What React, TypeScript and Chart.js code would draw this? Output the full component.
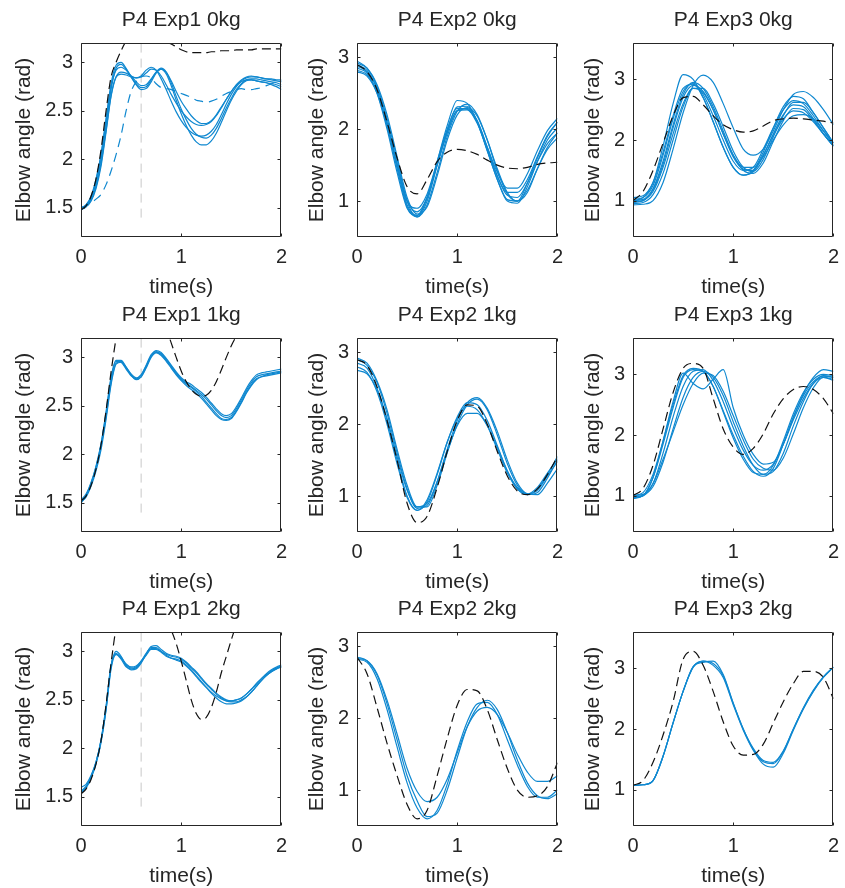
import React, { useEffect, useRef } from "react";
import { Chart, registerables } from "chart.js";
Chart.register(...registerables);

const FONT = '"Liberation Sans", Arial, Helvetica, sans-serif';
const TEXT = "#262626";
const BLUE = "#0f88d0";
const BLACK = "#111111";
const GRAY = "#c8c8c8";

// time samples (s)
const TIME_FINE = [0, 0.05, 0.1, 0.15, 0.2, 0.25, 0.3, 0.35, 0.4, 0.45, 0.5, 0.55, 0.6, 0.65, 0.7, 0.75, 0.8, 0.85, 0.9, 0.95, 1, 1.05, 1.1, 1.15, 1.2, 1.25, 1.3, 1.35, 1.4, 1.45, 1.5, 1.55, 1.6, 1.65, 1.7, 1.75, 1.8, 1.85, 1.9, 1.95, 2];
const TIME = [0, 0.1, 0.2, 0.3, 0.4, 0.5, 0.6, 0.7, 0.8, 0.9, 1, 1.1, 1.2, 1.3, 1.4, 1.5, 1.6, 1.7, 1.8, 1.9, 2];

const X_TICKS = [0, 1, 2];
const Y_TICKS_EXP1 = [1.5, 2, 2.5, 3];
const Y_TICKS_EXP2 = [1, 2, 3];
const Y_TICKS_EXP3 = [1, 2, 3];
const MARKER_T = [0.6, 0.6];
const MARKER_Y = [1.4, 3.2];

// ---- P4 Exp1 0kg ----
const E1_0_BLACK = [1.48, 1.52, 1.62, 1.8, 2.1, 2.5, 2.85, 3.0, 3.12, 3.22, 3.28, 3.31, 3.32, 3.31, 3.29, 3.26, 3.23, 3.21, 3.19, 3.16, 3.13, 3.11, 3.1, 3.1, 3.1, 3.1, 3.11, 3.11, 3.12, 3.12, 3.12, 3.13, 3.13, 3.13, 3.13, 3.14, 3.14, 3.14, 3.14, 3.14, 3.14];
const E1_0_DASHED = [1.5, 1.52, 1.55, 1.59, 1.64, 1.74, 1.88, 2.05, 2.25, 2.5, 2.7, 2.8, 2.85, 2.86, 2.84, 2.78, 2.74, 2.73, 2.72, 2.7, 2.68, 2.66, 2.64, 2.61, 2.6, 2.59, 2.6, 2.62, 2.65, 2.68, 2.7, 2.72, 2.73, 2.72, 2.72, 2.73, 2.74, 2.76, 2.78, 2.8, 2.81];
const E1_0_A = [1.48, 1.52, 1.6, 1.78, 2.05, 2.42, 2.78, 2.97, 3.0, 2.94, 2.85, 2.77, 2.72, 2.73, 2.8, 2.89, 2.93, 2.88, 2.76, 2.61, 2.47, 2.35, 2.25, 2.18, 2.15, 2.15, 2.19, 2.27, 2.38, 2.5, 2.61, 2.7, 2.77, 2.81, 2.82, 2.81, 2.8, 2.79, 2.77, 2.75, 2.72];
const E1_0_B = [1.5, 1.53, 1.6, 1.75, 2.0, 2.35, 2.72, 2.94, 2.98, 2.93, 2.85, 2.78, 2.74, 2.75, 2.82, 2.9, 2.94, 2.9, 2.79, 2.65, 2.52, 2.41, 2.32, 2.26, 2.23, 2.22, 2.25, 2.32, 2.42, 2.53, 2.63, 2.72, 2.78, 2.82, 2.83, 2.83, 2.82, 2.81, 2.8, 2.79, 2.77];
const E1_0_C = [1.48, 1.51, 1.57, 1.7, 1.93, 2.28, 2.65, 2.85, 2.9, 2.89, 2.86, 2.84, 2.86, 2.92, 2.95, 2.92, 2.83, 2.72, 2.6, 2.49, 2.4, 2.33, 2.28, 2.25, 2.24, 2.25, 2.29, 2.36, 2.46, 2.57, 2.67, 2.75, 2.81, 2.84, 2.85, 2.85, 2.84, 2.83, 2.82, 2.81, 2.8];
const E1_0_D = [1.5, 1.52, 1.58, 1.72, 1.96, 2.3, 2.66, 2.85, 2.88, 2.87, 2.85, 2.84, 2.85, 2.89, 2.93, 2.92, 2.86, 2.77, 2.67, 2.58, 2.5, 2.44, 2.39, 2.36, 2.35, 2.36, 2.39, 2.45, 2.53, 2.62, 2.7, 2.77, 2.82, 2.85, 2.86, 2.85, 2.84, 2.83, 2.83, 2.82, 2.82];
const E1_0_E = [1.49, 1.53, 1.62, 1.8, 2.05, 2.4, 2.75, 2.92, 2.95, 2.92, 2.86, 2.8, 2.76, 2.77, 2.83, 2.9, 2.93, 2.9, 2.81, 2.7, 2.6, 2.52, 2.45, 2.4, 2.37, 2.37, 2.4, 2.46, 2.54, 2.62, 2.7, 2.76, 2.8, 2.82, 2.82, 2.81, 2.8, 2.79, 2.78, 2.77, 2.75];

// ---- P4 Exp2 0kg ----
const E2_0_BLACK = [2.9, 2.8, 2.55, 2.1, 1.6, 1.2, 1.1, 1.3, 1.55, 1.68, 1.72, 1.7, 1.65, 1.57, 1.5, 1.46, 1.45, 1.47, 1.51, 1.53, 1.54];
const E2_0_A = [2.95, 2.85, 2.6, 2.1, 1.5, 0.95, 0.8, 1.05, 1.55, 2.05, 2.4, 2.36, 2.1, 1.7, 1.3, 1.02, 1.0, 1.25, 1.6, 1.9, 2.1];
const E2_0_B = [2.9, 2.82, 2.55, 2.05, 1.45, 0.92, 0.78, 1.0, 1.5, 1.98, 2.31, 2.32, 2.1, 1.7, 1.3, 1.0, 0.97, 1.2, 1.55, 1.85, 2.02];
const E2_0_C = [2.85, 2.78, 2.5, 2.0, 1.4, 0.9, 0.8, 1.05, 1.52, 1.95, 2.26, 2.29, 2.12, 1.75, 1.35, 1.08, 1.05, 1.25, 1.55, 1.8, 1.95];
const E2_0_D = [2.92, 2.85, 2.62, 2.2, 1.62, 1.05, 0.82, 0.92, 1.35, 1.85, 2.2, 2.3, 2.18, 1.85, 1.45, 1.12, 1.0, 1.12, 1.45, 1.75, 1.95];
const E2_0_E = [2.88, 2.8, 2.58, 2.15, 1.58, 1.0, 0.78, 0.95, 1.4, 1.9, 2.25, 2.35, 2.2, 1.85, 1.42, 1.1, 1.0, 1.15, 1.45, 1.72, 1.88];
const E2_0_F = [2.82, 2.76, 2.52, 2.08, 1.52, 1.0, 0.85, 1.05, 1.5, 1.95, 2.26, 2.27, 2.08, 1.72, 1.35, 1.12, 1.12, 1.3, 1.62, 1.92, 2.1];
const E2_0_G = [2.8, 2.74, 2.5, 2.05, 1.5, 1.0, 0.9, 1.1, 1.55, 2.0, 2.29, 2.28, 2.1, 1.75, 1.4, 1.18, 1.18, 1.38, 1.7, 1.98, 2.15];

// ---- P4 Exp3 0kg ----
const E3_0_BLACK = [1.0, 1.15, 1.5, 1.95, 2.4, 2.7, 2.72, 2.58, 2.4, 2.25, 2.17, 2.13, 2.15, 2.23, 2.32, 2.35, 2.36, 2.35, 2.33, 2.31, 2.28];
const E3_0_A = [1.0, 1.05, 1.3, 1.9, 2.6, 3.08, 3.0, 2.7, 2.3, 1.88, 1.55, 1.42, 1.5, 1.8, 2.2, 2.55, 2.72, 2.68, 2.45, 2.2, 1.95];
const E3_0_B = [0.93, 0.94, 1.0, 1.3, 1.85, 2.45, 2.9, 3.07, 2.95, 2.6, 2.2, 1.85, 1.75, 1.85, 2.15, 2.5, 2.75, 2.8, 2.7, 2.5, 2.25];
const E3_0_C = [1.02, 1.05, 1.25, 1.75, 2.35, 2.8, 2.93, 2.75, 2.4, 2.0, 1.65, 1.5, 1.55, 1.85, 2.2, 2.5, 2.65, 2.6, 2.4, 2.15, 1.92];
const E3_0_D = [0.98, 1.0, 1.18, 1.6, 2.2, 2.7, 2.9, 2.8, 2.5, 2.1, 1.72, 1.52, 1.5, 1.75, 2.1, 2.42, 2.58, 2.55, 2.35, 2.1, 1.9];
const E3_0_E = [1.05, 1.08, 1.3, 1.8, 2.4, 2.85, 2.92, 2.7, 2.3, 1.88, 1.55, 1.42, 1.48, 1.75, 2.08, 2.35, 2.48, 2.45, 2.3, 2.1, 1.9];
const E3_0_F = [0.95, 0.97, 1.1, 1.45, 2.0, 2.55, 2.85, 2.85, 2.6, 2.22, 1.82, 1.55, 1.48, 1.68, 2.05, 2.4, 2.62, 2.62, 2.45, 2.2, 1.95];
const E3_0_G = [1.0, 1.02, 1.2, 1.65, 2.25, 2.75, 2.95, 2.85, 2.55, 2.15, 1.75, 1.5, 1.45, 1.62, 1.98, 2.32, 2.52, 2.5, 2.32, 2.1, 1.9];
const E3_0_H = [0.97, 1.0, 1.15, 1.55, 2.1, 2.6, 2.85, 2.78, 2.5, 2.1, 1.75, 1.55, 1.55, 1.72, 2.0, 2.25, 2.4, 2.42, 2.35, 2.15, 1.95];

// ---- P4 Exp1 1kg ----
const E1_1_BLACK = [1.52, 1.57, 1.68, 1.85, 2.1, 2.45, 2.85, 3.2, 3.5, 3.7, 3.85, 3.9, 3.9, 3.85, 3.75, 3.6, 3.45, 3.3, 3.15, 3.0, 2.86, 2.75, 2.67, 2.62, 2.6, 2.61, 2.66, 2.75, 2.87, 3.0, 3.12, 3.22, 3.32, 3.42, 3.5, 3.58, 3.65, 3.7, 3.74, 3.77, 3.8];
const E1_1_A = [1.52, 1.58, 1.7, 1.87, 2.1, 2.42, 2.78, 2.96, 2.95, 2.88, 2.81, 2.78, 2.82, 2.92, 3.03, 3.06, 3.03, 2.97, 2.9, 2.83, 2.77, 2.73, 2.7, 2.66, 2.62, 2.57, 2.51, 2.45, 2.4, 2.38, 2.4, 2.47, 2.56, 2.66, 2.74, 2.8, 2.82, 2.83, 2.84, 2.85, 2.86];
const E1_1_B = [1.5, 1.57, 1.69, 1.86, 2.08, 2.39, 2.74, 2.94, 2.96, 2.9, 2.83, 2.79, 2.82, 2.91, 3.02, 3.07, 3.05, 2.99, 2.92, 2.85, 2.79, 2.75, 2.72, 2.68, 2.64, 2.59, 2.53, 2.47, 2.42, 2.4, 2.42, 2.49, 2.58, 2.68, 2.76, 2.82, 2.84, 2.85, 2.86, 2.87, 2.88];
const E1_1_C = [1.51, 1.56, 1.67, 1.83, 2.05, 2.36, 2.72, 2.93, 2.95, 2.89, 2.82, 2.78, 2.8, 2.89, 3.0, 3.05, 3.04, 2.98, 2.91, 2.84, 2.78, 2.73, 2.69, 2.65, 2.6, 2.54, 2.48, 2.42, 2.37, 2.36, 2.38, 2.45, 2.54, 2.64, 2.72, 2.78, 2.8, 2.82, 2.83, 2.84, 2.85];
const E1_1_D = [1.53, 1.59, 1.71, 1.88, 2.11, 2.44, 2.8, 2.97, 2.97, 2.9, 2.82, 2.77, 2.8, 2.9, 3.01, 3.05, 3.02, 2.96, 2.89, 2.82, 2.76, 2.71, 2.67, 2.63, 2.58, 2.52, 2.46, 2.4, 2.36, 2.35, 2.37, 2.44, 2.53, 2.63, 2.71, 2.77, 2.8, 2.81, 2.82, 2.83, 2.84];

// ---- P4 Exp2 1kg ----
const E2_1_BLACK = [2.9, 2.82, 2.52, 2.05, 1.5, 0.9, 0.63, 0.72, 1.12, 1.62, 2.05, 2.27, 2.25, 2.0, 1.62, 1.28, 1.07, 1.02, 1.1, 1.3, 1.55];
const E2_1_A = [2.92, 2.85, 2.6, 2.2, 1.65, 1.15, 0.85, 0.85, 1.15, 1.6, 2.0, 2.27, 2.35, 2.2, 1.85, 1.45, 1.15, 1.02, 1.05, 1.25, 1.5];
const E2_1_B = [2.85, 2.78, 2.5, 2.05, 1.5, 1.0, 0.8, 0.92, 1.3, 1.75, 2.1, 2.3, 2.27, 2.05, 1.7, 1.35, 1.1, 1.02, 1.1, 1.3, 1.55];
const E2_1_C = [2.8, 2.72, 2.45, 2.0, 1.45, 0.98, 0.8, 0.95, 1.32, 1.75, 2.08, 2.25, 2.2, 1.98, 1.65, 1.32, 1.1, 1.03, 1.12, 1.32, 1.52];
const E2_1_D = [2.75, 2.7, 2.48, 2.08, 1.55, 1.08, 0.85, 0.9, 1.2, 1.62, 1.98, 2.15, 2.15, 1.98, 1.68, 1.35, 1.12, 1.03, 1.08, 1.28, 1.48];
const E2_1_E = [2.9, 2.82, 2.58, 2.15, 1.6, 1.1, 0.83, 0.87, 1.2, 1.65, 2.05, 2.3, 2.37, 2.22, 1.9, 1.5, 1.18, 1.03, 1.02, 1.18, 1.38];

// ---- P4 Exp3 1kg ----
const E3_1_BLACK = [1.0, 1.12, 1.5, 2.1, 2.7, 3.1, 3.18, 3.1, 2.6, 2.1, 1.8, 1.68, 1.78, 2.02, 2.35, 2.6, 2.75, 2.8, 2.75, 2.6, 2.35];
const E3_1_A = [0.95, 1.0, 1.3, 1.85, 2.45, 2.95, 3.08, 3.05, 2.8, 2.4, 2.0, 1.65, 1.4, 1.32, 1.45, 1.85, 2.3, 2.65, 2.88, 2.97, 2.95];
const E3_1_B = [1.0, 1.05, 1.35, 1.9, 2.5, 2.98, 3.1, 3.05, 2.8, 2.38, 1.95, 1.6, 1.38, 1.35, 1.5, 1.9, 2.35, 2.7, 2.92, 3.0, 2.98];
const E3_1_C = [0.98, 1.0, 1.2, 1.7, 2.3, 2.8, 3.05, 3.08, 2.9, 2.55, 2.12, 1.75, 1.5, 1.42, 1.52, 1.85, 2.28, 2.68, 2.95, 3.08, 3.05];
const E3_1_D = [0.97, 1.0, 1.3, 1.9, 2.55, 3.02, 2.85, 2.76, 2.92, 3.08, 2.45, 2.0, 1.68, 1.52, 1.55, 1.85, 2.25, 2.6, 2.85, 2.95, 2.92];
const E3_1_E = [0.97, 1.0, 1.15, 1.55, 2.1, 2.62, 2.95, 3.05, 2.95, 2.65, 2.22, 1.82, 1.5, 1.35, 1.4, 1.7, 2.15, 2.55, 2.85, 2.98, 2.95];
const E3_1_F = [1.0, 1.02, 1.2, 1.6, 2.05, 2.5, 2.85, 3.02, 2.98, 2.72, 2.32, 1.92, 1.6, 1.45, 1.42, 1.62, 2.02, 2.45, 2.78, 2.95, 2.9];

// ---- P4 Exp1 2kg ----
const E1_2_BLACK = [1.53, 1.58, 1.68, 1.84, 2.08, 2.45, 2.88, 3.25, 3.55, 3.75, 3.88, 3.92, 3.9, 3.82, 3.7, 3.58, 3.45, 3.33, 3.22, 3.08, 2.9, 2.7, 2.5, 2.36, 2.3, 2.32, 2.42, 2.58, 2.78, 2.95, 3.12, 3.28, 3.42, 3.55, 3.65, 3.75, 3.82, 3.88, 3.92, 3.95, 3.97];
const E1_2_A = [1.55, 1.6, 1.7, 1.85, 2.08, 2.42, 2.85, 2.98, 2.93, 2.86, 2.83, 2.84, 2.9, 2.98, 3.04, 3.04, 3.0, 2.97, 2.95, 2.94, 2.92, 2.88, 2.83, 2.78, 2.72, 2.66, 2.61, 2.56, 2.52, 2.49, 2.48, 2.48, 2.5, 2.53, 2.58, 2.64, 2.7, 2.75, 2.79, 2.82, 2.84];
const E1_2_B = [1.6, 1.63, 1.72, 1.86, 2.08, 2.4, 2.82, 2.97, 2.94, 2.87, 2.84, 2.85, 2.9, 2.97, 3.03, 3.03, 3.0, 2.96, 2.93, 2.91, 2.89, 2.85, 2.8, 2.74, 2.68, 2.63, 2.58, 2.54, 2.51, 2.49, 2.49, 2.5, 2.52, 2.56, 2.61, 2.66, 2.72, 2.76, 2.8, 2.83, 2.85];
const E1_2_C = [1.54, 1.59, 1.69, 1.84, 2.06, 2.4, 2.84, 3.0, 2.95, 2.85, 2.81, 2.82, 2.88, 2.97, 3.05, 3.06, 3.02, 2.98, 2.96, 2.95, 2.93, 2.89, 2.84, 2.79, 2.73, 2.67, 2.62, 2.57, 2.53, 2.5, 2.49, 2.5, 2.52, 2.56, 2.61, 2.67, 2.72, 2.77, 2.81, 2.84, 2.86];
const E1_2_D = [1.56, 1.61, 1.71, 1.86, 2.09, 2.44, 2.86, 2.97, 2.92, 2.84, 2.82, 2.83, 2.89, 2.96, 3.02, 3.02, 2.99, 2.95, 2.93, 2.92, 2.9, 2.86, 2.81, 2.75, 2.69, 2.63, 2.57, 2.52, 2.48, 2.46, 2.46, 2.47, 2.49, 2.53, 2.58, 2.64, 2.7, 2.75, 2.79, 2.82, 2.84];

// ---- P4 Exp2 2kg ----
const E2_2_BLACK = [2.85, 2.62, 2.15, 1.65, 1.2, 0.8, 0.6, 0.72, 1.2, 1.72, 2.18, 2.4, 2.38, 2.12, 1.7, 1.3, 1.0, 0.9, 0.92, 1.05, 1.38];
const E2_2_A = [2.85, 2.8, 2.6, 2.2, 1.7, 1.2, 0.85, 0.63, 0.68, 1.0, 1.45, 1.88, 2.15, 2.25, 2.12, 1.8, 1.42, 1.1, 0.92, 0.88, 0.95];
const E2_2_B = [2.82, 2.78, 2.55, 2.12, 1.6, 1.1, 0.75, 0.6, 0.72, 1.08, 1.55, 1.95, 2.2, 2.22, 2.05, 1.7, 1.35, 1.05, 0.9, 0.9, 1.0];
const E2_2_C = [2.83, 2.8, 2.62, 2.25, 1.78, 1.3, 0.98, 0.84, 0.9, 1.15, 1.52, 1.88, 2.1, 2.15, 2.05, 1.8, 1.5, 1.25, 1.12, 1.12, 1.2];

// ---- P4 Exp3 2kg ----
const E3_2_BLACK = [1.07, 1.15, 1.45, 1.9, 2.45, 3.15, 3.28, 3.05, 2.62, 2.12, 1.72, 1.57, 1.58, 1.75, 2.1, 2.45, 2.75, 2.95, 2.95, 2.85, 2.5];
const E3_2_A = [1.07, 1.08, 1.15, 1.55, 2.1, 2.62, 3.02, 3.12, 3.05, 2.85, 2.4, 1.98, 1.65, 1.42, 1.37, 1.6, 1.98, 2.33, 2.62, 2.85, 3.02];
const E3_2_B = [1.07, 1.08, 1.15, 1.55, 2.1, 2.62, 3.02, 3.12, 3.08, 2.88, 2.42, 2.0, 1.66, 1.46, 1.43, 1.63, 2.0, 2.34, 2.63, 2.86, 3.02];
const E3_2_C = [1.07, 1.08, 1.15, 1.55, 2.1, 2.62, 3.03, 3.1, 3.12, 2.9, 2.43, 2.0, 1.68, 1.48, 1.45, 1.64, 2.0, 2.35, 2.64, 2.86, 3.02];

type PanelCfg = {
  title: string;
  time: number[];
  black: number[];
  blue: number[][];
  blueDashed?: number[];
  marker?: boolean;
  yMin: number;
  yMax: number;
  yTicks: number[];
};

const PANELS: PanelCfg[] = [
  { title: "P4 Exp1 0kg", time: TIME_FINE, black: E1_0_BLACK, blue: [E1_0_A, E1_0_B, E1_0_C, E1_0_D, E1_0_E], blueDashed: E1_0_DASHED, marker: true, yMin: 1.2, yMax: 3.2, yTicks: Y_TICKS_EXP1 },
  { title: "P4 Exp2 0kg", time: TIME, black: E2_0_BLACK, blue: [E2_0_A, E2_0_B, E2_0_C, E2_0_D, E2_0_E, E2_0_F, E2_0_G], yMin: 0.5, yMax: 3.2, yTicks: Y_TICKS_EXP2 },
  { title: "P4 Exp3 0kg", time: TIME, black: E3_0_BLACK, blue: [E3_0_A, E3_0_B, E3_0_C, E3_0_D, E3_0_E, E3_0_F, E3_0_G, E3_0_H], yMin: 0.4, yMax: 3.6, yTicks: Y_TICKS_EXP3 },
  { title: "P4 Exp1 1kg", time: TIME_FINE, black: E1_1_BLACK, blue: [E1_1_A, E1_1_B, E1_1_C, E1_1_D], marker: true, yMin: 1.2, yMax: 3.2, yTicks: Y_TICKS_EXP1 },
  { title: "P4 Exp2 1kg", time: TIME, black: E2_1_BLACK, blue: [E2_1_A, E2_1_B, E2_1_C, E2_1_D, E2_1_E], yMin: 0.5, yMax: 3.2, yTicks: Y_TICKS_EXP2 },
  { title: "P4 Exp3 1kg", time: TIME, black: E3_1_BLACK, blue: [E3_1_A, E3_1_B, E3_1_C, E3_1_D, E3_1_E, E3_1_F], yMin: 0.4, yMax: 3.6, yTicks: Y_TICKS_EXP3 },
  { title: "P4 Exp1 2kg", time: TIME_FINE, black: E1_2_BLACK, blue: [E1_2_A, E1_2_B, E1_2_C, E1_2_D], marker: true, yMin: 1.2, yMax: 3.2, yTicks: Y_TICKS_EXP1 },
  { title: "P4 Exp2 2kg", time: TIME, black: E2_2_BLACK, blue: [E2_2_A, E2_2_B, E2_2_C], yMin: 0.5, yMax: 3.2, yTicks: Y_TICKS_EXP2 },
  { title: "P4 Exp3 2kg", time: TIME, black: E3_2_BLACK, blue: [E3_2_A, E3_2_B, E3_2_C], yMin: 0.4, yMax: 3.6, yTicks: Y_TICKS_EXP3 },
];

// layout (page pixels)
const COL_LEFT = [81, 357, 633];
const ROW_TOP = [43, 338, 632];
const PLOT_W = 204;
const PLOT_H = 194;
const Y_AXIS_W = 81;
const TITLE_H = 43;
const X_AXIS_H = 70;
const RIGHT_PAD = 10;
const TICK_LEN = 3;

const framePlugin = {
  id: "matlabFrame",
  afterDatasetsDraw(chart: any) {
    const { ctx, chartArea: a, scales } = chart;
    ctx.save();
    ctx.strokeStyle = TEXT;
    ctx.lineWidth = 1;
    const l = Math.round(a.left) + 0.5;
    const t = Math.round(a.top) + 0.5;
    const r = Math.round(a.right) - 0.5;
    const b = Math.round(a.bottom) - 0.5;
    ctx.beginPath();
    ctx.rect(l, t, r - l, b - t);
    scales.y.ticks.forEach((tk: any) => {
      const py = Math.round(scales.y.getPixelForValue(tk.value)) + 0.5;
      ctx.moveTo(l, py); ctx.lineTo(l + TICK_LEN, py);
      ctx.moveTo(r, py); ctx.lineTo(r - TICK_LEN, py);
    });
    scales.x.ticks.forEach((tk: any) => {
      const px = Math.round(scales.x.getPixelForValue(tk.value)) + 0.5;
      ctx.moveTo(px, b); ctx.lineTo(px, b - TICK_LEN);
      ctx.moveTo(px, t); ctx.lineTo(px, t + TICK_LEN);
    });
    ctx.stroke();
    ctx.restore();
  },
};

function toPts(time: number[], ys: number[]) {
  return ys.map((y, i) => ({ x: time[i], y }));
}

function Panel({ cfg, col, row }: { cfg: PanelCfg; col: number; row: number }) {
  const ref = useRef<HTMLCanvasElement>(null);
  const cw = Y_AXIS_W + PLOT_W + RIGHT_PAD;
  const chh = TITLE_H + PLOT_H + X_AXIS_H;
  useEffect(() => {
    if (!ref.current) return;
    const datasets: any[] = [];
    datasets.push({ data: toPts(cfg.time, cfg.black), borderColor: BLACK, borderWidth: 1.2, borderDash: [9, 5] });
    cfg.blue.forEach((s) => datasets.push({ data: toPts(cfg.time, s), borderColor: BLUE, borderWidth: 1.2 }));
    if (cfg.blueDashed) datasets.push({ data: toPts(cfg.time, cfg.blueDashed), borderColor: BLUE, borderWidth: 1.2, borderDash: [9, 6] });
    if (cfg.marker) datasets.push({ data: toPts(MARKER_T, MARKER_Y), borderColor: GRAY, borderWidth: 1, borderDash: [9, 6], cubicInterpolationMode: "default", tension: 0 });
    const tickFont = { family: FONT, size: 20 };
    const labelFont = { family: FONT, size: 21, lineHeight: 1.2 };
    const chart = new Chart(ref.current, {
      type: "line",
      data: { datasets },
      plugins: [framePlugin],
      options: {
        animation: false,
        responsive: false,
        devicePixelRatio: 1,
        layout: { padding: { left: 0, right: RIGHT_PAD, top: 0, bottom: 0 } },
        elements: {
          point: { radius: 0, hoverRadius: 0 },
          line: { cubicInterpolationMode: "monotone", fill: false },
        },
        plugins: {
          legend: { display: false },
          tooltip: { enabled: false },
          title: {
            display: true,
            fullSize: false,
            text: cfg.title,
            color: TEXT,
            font: { family: FONT, size: 21, weight: "normal", lineHeight: 1.2 },
            padding: { top: 8, bottom: TITLE_H - 8 - 25.2 },
          },
        },
        scales: {
          x: {
            type: "linear",
            min: 0,
            max: 2,
            afterBuildTicks: (ax: any) => { ax.ticks = X_TICKS.map((v) => ({ value: v })); },
            afterFit: (s: any) => { s.height = X_AXIS_H; },
            grid: { display: false, drawTicks: false, tickLength: 0 },
            border: { display: false },
            ticks: { color: TEXT, font: tickFont, padding: 8, maxRotation: 0, autoSkip: false, callback: (v: any) => String(v) },
            title: { display: true, text: "time(s)", color: TEXT, font: labelFont, padding: { top: 0, bottom: 7 } },
          },
          y: {
            type: "linear",
            min: cfg.yMin,
            max: cfg.yMax,
            afterBuildTicks: (ax: any) => { ax.ticks = cfg.yTicks.map((v) => ({ value: v })); },
            afterFit: (s: any) => { s.width = Y_AXIS_W; },
            grid: { display: false, drawTicks: false, tickLength: 0 },
            border: { display: false },
            ticks: { color: TEXT, font: tickFont, padding: 8, autoSkip: false, callback: (v: any) => String(v) },
            title: { display: true, text: "Elbow angle (rad)", color: TEXT, font: labelFont, padding: { top: col === 0 ? 12 : 29, bottom: 0 } },
          },
        },
      } as any,
    });
    return () => chart.destroy();
  }, [cfg, col, row]);
  return (
    <canvas
      ref={ref}
      width={cw}
      height={chh}
      style={{ position: "absolute", left: COL_LEFT[col] - Y_AXIS_W, top: ROW_TOP[row] - TITLE_H, width: cw, height: chh }}
    />
  );
}

export default function App() {
  return (
    <div style={{ position: "absolute", left: 0, top: 0, width: 845, height: 888, background: "#fff", overflow: "hidden" }}>
      {PANELS.map((p, i) => (
        <Panel key={i} cfg={p} col={i % 3} row={Math.floor(i / 3)} />
      ))}
    </div>
  );
}
